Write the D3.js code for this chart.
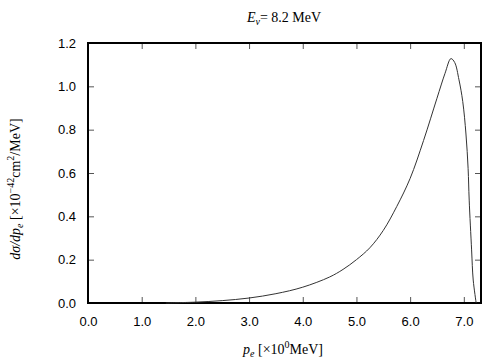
<!DOCTYPE html>
<html>
<head>
<meta charset="utf-8">
<script src="https://cdn.jsdelivr.net/npm/d3@7"></script>
<style>
body { margin: 0; background: #fff; }
svg text { fill: #000; }
</style>
</head>
<body>
<div id="chart"></div>
<script>
var pe = [1.45, 2.0, 2.5, 3.0, 3.5, 4.0, 4.5, 4.75, 5.0, 5.25, 5.5, 5.75, 6.0, 6.25, 6.5, 6.65, 6.76, 6.83, 6.91, 6.98, 7.04, 7.08, 7.10, 7.145, 7.175, 7.23];
var dsig = [0, 0.004, 0.011, 0.023, 0.043, 0.073, 0.12, 0.155, 0.2, 0.255, 0.335, 0.445, 0.575, 0.75, 0.945, 1.06, 1.128, 1.11, 1.03, 0.93, 0.78, 0.62, 0.475, 0.245, 0.106, 0];
var xTicks = [0, 1, 2, 3, 4, 5, 6, 7];
var yTicks = [0, 0.2, 0.4, 0.6, 0.8, 1.0, 1.2];

var pLeft = 88, pRight = 481, pTop = 43, pBottom = 303;

var svg = d3.select("#chart")
            .append("svg")
            .attr("width", 504)
            .attr("height", 360)

var x = d3.scaleLinear().domain([0, 7.32]).range([pLeft, pRight]);
var y = d3.scaleLinear().domain([0, 1.2]).range([pBottom, pTop]);

// ticks, inward on all four sides
var tickFont = "'Liberation Sans', Arial, sans-serif";

svg.append("g")
    .attr("transform", "translate(0," + pBottom + ")")
    .call(d3.axisBottom(x).tickValues(xTicks).tickSizeInner(-6).tickSizeOuter(0).tickPadding(14).tickFormat(d3.format(".1f")))
    .call(function(g) { g.select(".domain").remove(); })
    .selectAll("text").style("font-family", tickFont).style("font-size", "13px");

svg.append("g")
    .attr("transform", "translate(0," + pTop + ")")
    .call(d3.axisTop(x).tickValues(xTicks).tickSizeInner(-6).tickSizeOuter(0).tickFormat(""))
    .call(function(g) { g.select(".domain").remove(); });

svg.append("g")
    .attr("transform", "translate(" + pLeft + ",0)")
    .call(d3.axisLeft(y).tickValues(yTicks).tickSizeInner(-6).tickSizeOuter(0).tickPadding(12).tickFormat(d3.format(".1f")))
    .call(function(g) { g.select(".domain").remove(); })
    .selectAll("text").style("font-family", tickFont).style("font-size", "13px");

svg.append("g")
    .attr("transform", "translate(" + pRight + ",0)")
    .call(d3.axisRight(y).tickValues(yTicks).tickSizeInner(-6).tickSizeOuter(0).tickFormat(""))
    .call(function(g) { g.select(".domain").remove(); });

svg.selectAll(".tick line").style("stroke", "#555");

// frame
svg.append("rect")
    .attr("x", pLeft)
    .attr("y", pTop)
    .attr("width", pRight - pLeft)
    .attr("height", pBottom - pTop)
    .style("fill", "none")
    .style("stroke", "black")
    .style("stroke-width", 2)

// curve
var line = d3.line()
    .x(function(d, i) { return x(pe[i]); })
    .y(function(d) { return y(d); })
    .curve(d3.curveCatmullRom.alpha(0.5))

svg.append("path")
    .datum(dsig)
    .attr("d", line)
    .style("fill", "none")
    .style("stroke", "#333")
    .style("stroke-width", 1)

// labels
var serif = "'Liberation Serif', 'Times New Roman', serif";

var title = svg.append("text")
    .attr("x", 284)
    .attr("y", 22)
    .attr("text-anchor", "middle")
    .style("font-family", serif)
    .style("font-size", "14px")
title.append("tspan").style("font-style", "italic").text("E");
title.append("tspan").style("font-style", "italic").style("font-size", "10px").attr("dy", 3).text("ν");
title.append("tspan").attr("dy", -3).text("= 8.2 MeV");

var xl = svg.append("text")
    .attr("x", 283)
    .attr("y", 354)
    .attr("text-anchor", "middle")
    .style("font-family", serif)
    .style("font-size", "14px")
xl.append("tspan").style("font-style", "italic").text("p");
xl.append("tspan").style("font-style", "italic").style("font-size", "10px").attr("dy", 3).text("e");
xl.append("tspan").attr("dy", -3).text(" [×10");
xl.append("tspan").style("font-size", "10px").attr("dy", -6).text("0");
xl.append("tspan").attr("dy", 6).text("MeV]");

var yl = svg.append("text")
    .attr("transform", "translate(20,189) rotate(-90)")
    .attr("text-anchor", "middle")
    .style("font-family", serif)
    .style("font-size", "14px")
yl.append("tspan").style("font-style", "italic").text("dσ/dp");
yl.append("tspan").style("font-style", "italic").style("font-size", "10px").attr("dy", 3).text("e");
yl.append("tspan").attr("dy", -3).text(" [×10");
yl.append("tspan").style("font-size", "10px").attr("dy", -6).text("−42");
yl.append("tspan").attr("dy", 6).text("cm");
yl.append("tspan").style("font-size", "10px").attr("dy", -6).text("2");
yl.append("tspan").attr("dy", 6).text("/MeV]");
</script>
</body>
</html>
